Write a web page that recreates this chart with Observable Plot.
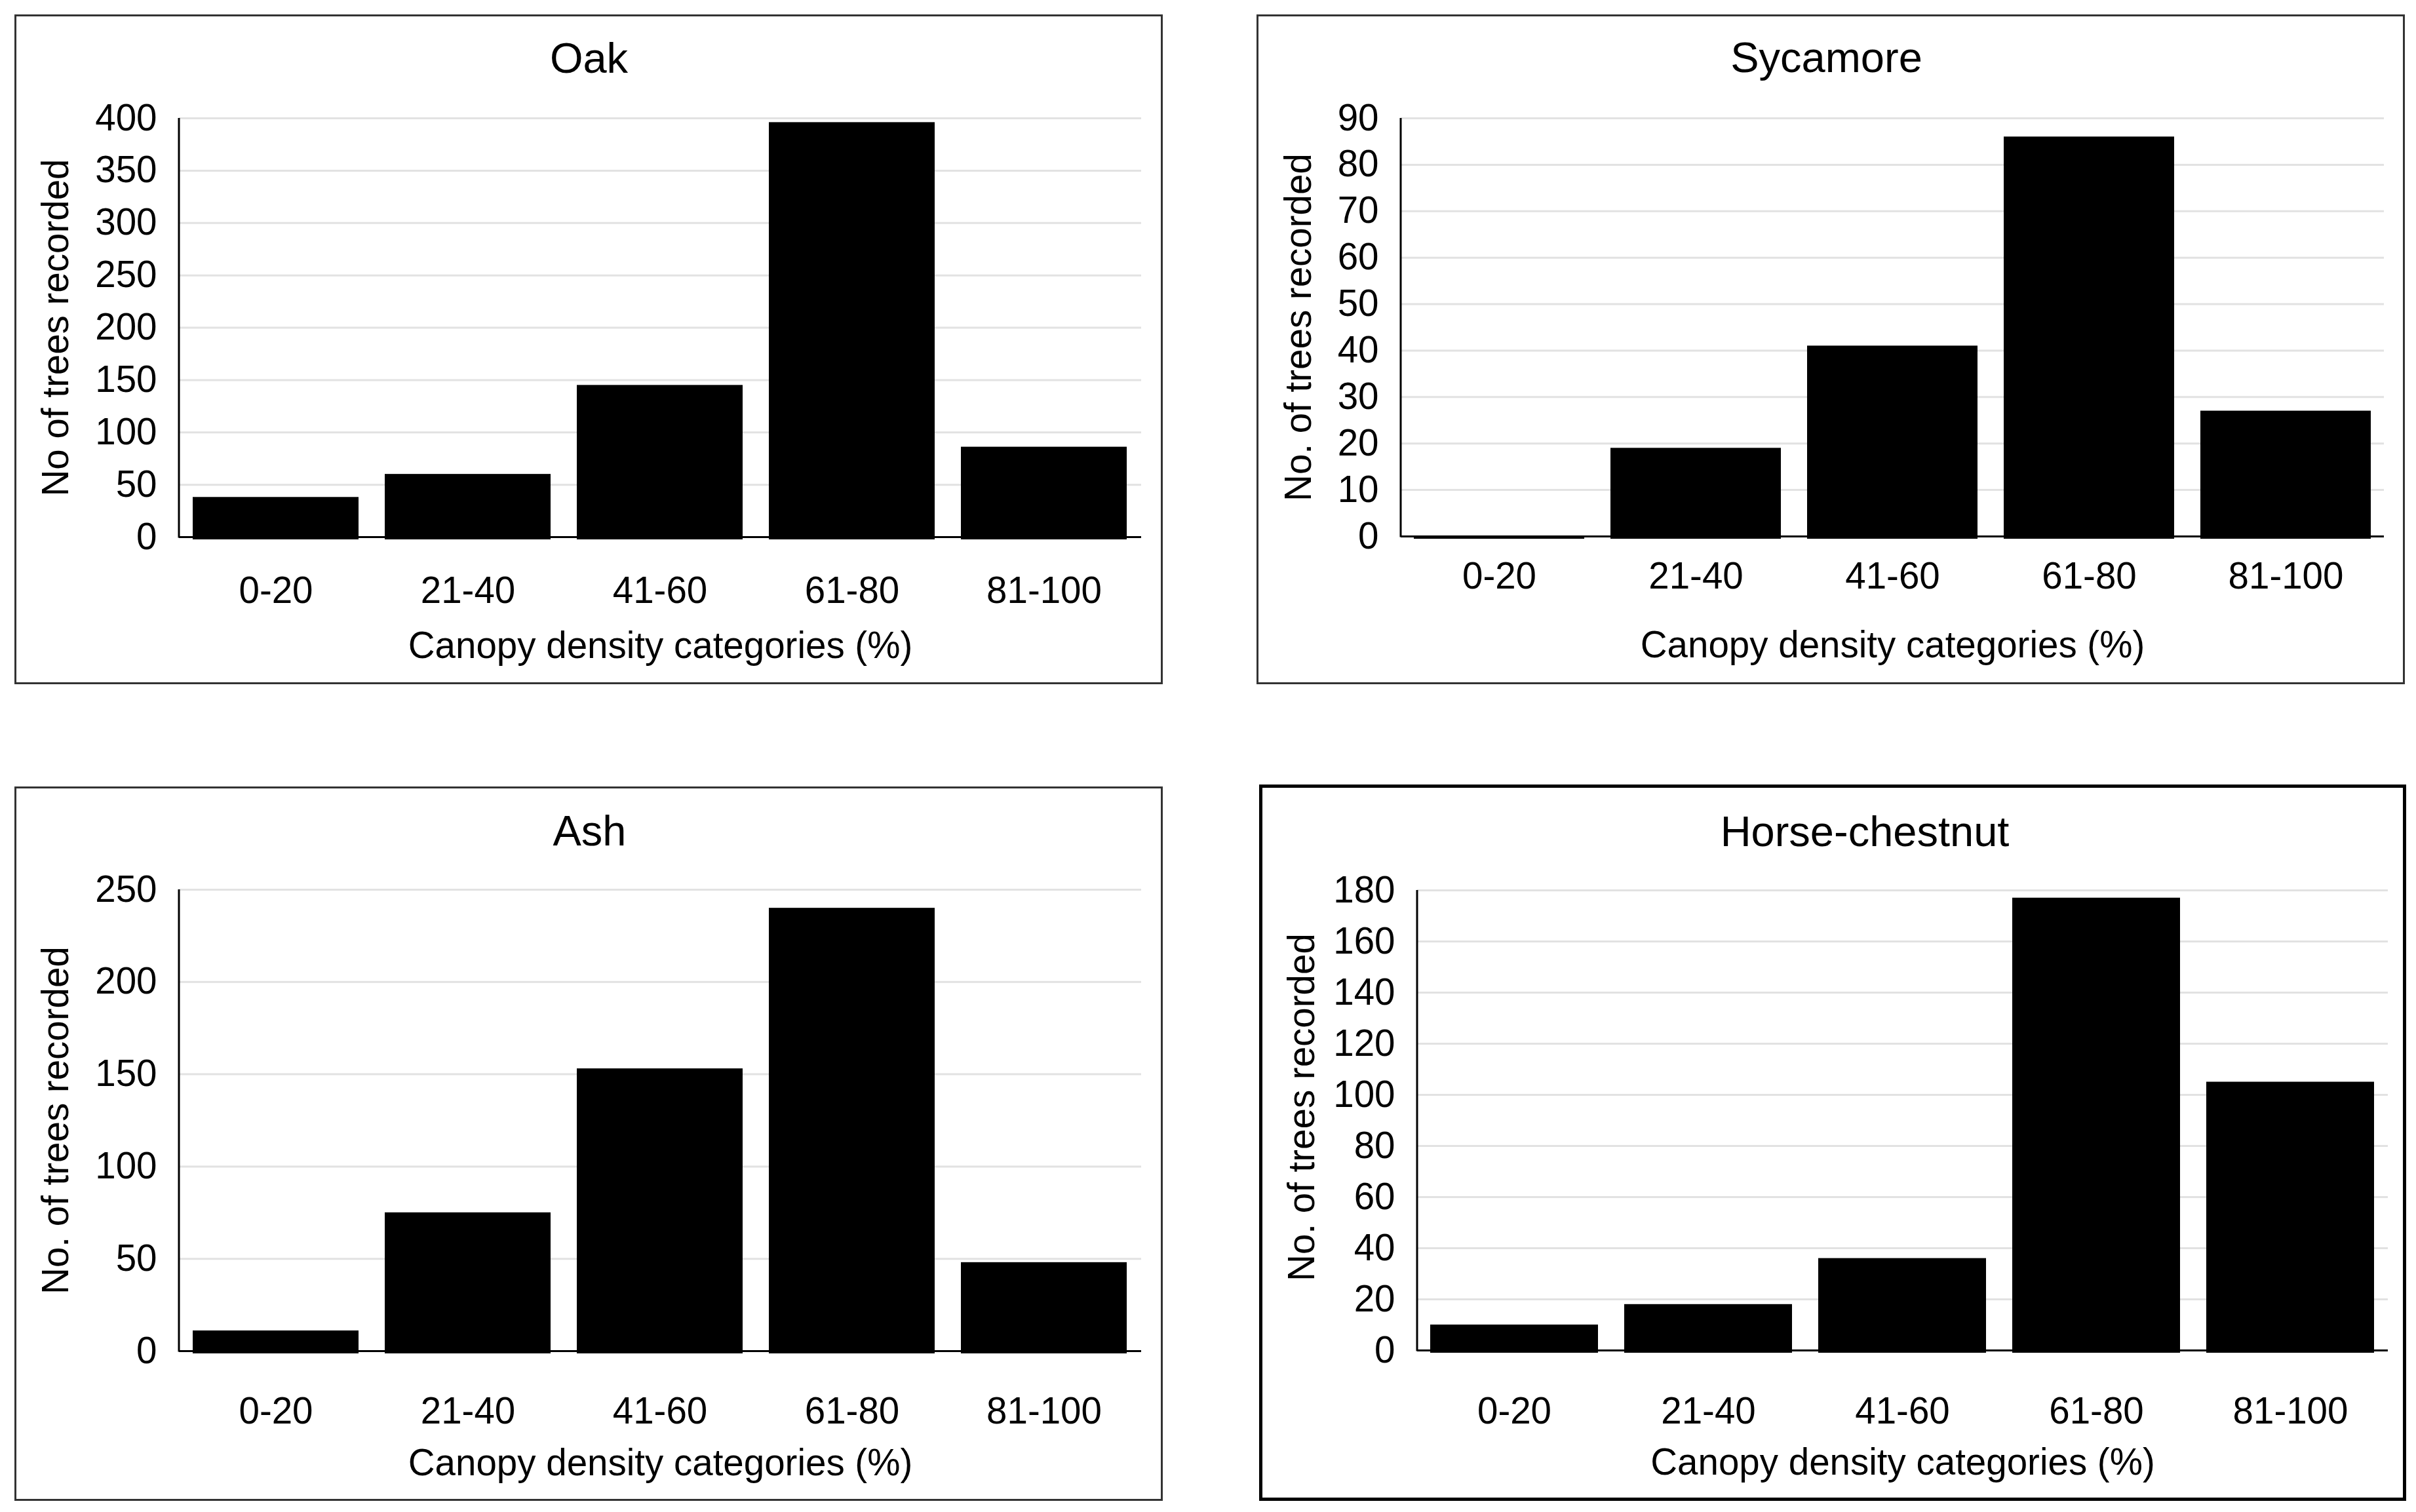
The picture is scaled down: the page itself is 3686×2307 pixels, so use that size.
<!DOCTYPE html>
<html>
<head>
<meta charset="utf-8">
<script src="https://cdn.jsdelivr.net/npm/d3@7"></script>
<script src="https://cdn.jsdelivr.net/npm/@observablehq/plot@0.6"></script>
<style>
  html, body { margin: 0; padding: 0; background: white; }
  body { position: relative; width: 3686px; height: 2307px; overflow: hidden; }
  .box { position: absolute; box-sizing: border-box; pointer-events: none; background: transparent; }
</style>
</head>
<body>
<script>
// ---- data ----
const categories = ["0-20", "21-40", "41-60", "61-80", "81-100"];
const oakCounts = [38, 60, 145, 396, 86];
const sycamoreCounts = [0, 19, 41, 86, 27];
const ashCounts = [11, 75, 153, 240, 48];
const horseChestnutCounts = [10, 18, 36, 177, 105];

const oakTicks = [0, 50, 100, 150, 200, 250, 300, 350, 400];
const sycamoreTicks = [0, 10, 20, 30, 40, 50, 60, 70, 80, 90];
const ashTicks = [0, 50, 100, 150, 200, 250];
const horseChestnutTicks = [0, 20, 40, 60, 80, 100, 120, 140, 160, 180];

const titles = ["Oak", "Sycamore", "Ash", "Horse-chestnut"];
const yLabels = ["No of trees recorded", "No. of trees recorded", "No. of trees recorded", "No. of trees recorded"];
const xLabel = "Canopy density categories (%)";

// ---- layout (not data) ----
const panels = [
  {title: titles[0], ylab: yLabels[0], counts: oakCounts, ticks: oakTicks,
   L: 23, T: 23, W: 1749, H: 1019, mL: 250, mR: 31, mT: 157, mB: 223,
   tickPad: 60, xLabDy: 166, yLabDx: -188, yLabDy: 0, titleDx: -109, titleDy: -90, border: 3, borderColor: "#333"},
  {title: titles[1], ylab: yLabels[1], counts: sycamoreCounts, ticks: sycamoreTicks,
   L: 1918, T: 23, W: 1749, H: 1019, mL: 219, mR: 30, mT: 157, mB: 224,
   tickPad: 39, xLabDy: 166, yLabDx: -156, yLabDy: 0, titleDx: -101, titleDy: -91, border: 3, borderColor: "#333"},
  {title: titles[2], ylab: yLabels[2], counts: ashCounts, ticks: ashTicks,
   L: 23, T: 1201, W: 1749, H: 1087, mL: 250, mR: 31, mT: 156, mB: 227,
   tickPad: 70, xLabDy: 171, yLabDx: -188, yLabDy: 0, titleDx: -108, titleDy: -88, border: 3, borderColor: "#333"},
  {title: titles[3], ylab: yLabels[3], counts: horseChestnutCounts, ticks: horseChestnutTicks,
   L: 1923, T: 1199, W: 1745, H: 1088, mL: 239, mR: 25, mT: 159, mB: 227,
   tickPad: 71, xLabDy: 171, yLabDx: -176, yLabDy: -20, titleDx: -58, titleDy: -88, border: 5, borderColor: "#000"}
];

const FONT = "'Liberation Sans', Arial, Helvetica, sans-serif";

for (const p of panels) {
  const data = categories.map((c, i) => ({cat: c, n: p.counts[i]}));
  const ymax = p.ticks[p.ticks.length - 1];

  const yAxisLine = (index, scales, values, dims) => {
    const l = document.createElementNS("http://www.w3.org/2000/svg", "line");
    l.setAttribute("x1", dims.marginLeft);
    l.setAttribute("x2", dims.marginLeft);
    l.setAttribute("y1", scales.y(0) + 1.5);
    l.setAttribute("y2", scales.y(ymax));
    l.setAttribute("stroke", "black");
    l.setAttribute("stroke-width", 3);
    return l;
  };

  const chart = Plot.plot({
    width: p.W,
    height: p.H,
    marginLeft: p.mL,
    marginRight: p.mR,
    marginTop: p.mT,
    marginBottom: p.mB,
    style: {fontFamily: FONT, fontSize: "56.5px", color: "black", background: "white", overflow: "visible"},
    x: {domain: categories, paddingInner: 0.135, paddingOuter: 0.0675},
    y: {domain: [0, ymax]},
    marks: [
      Plot.gridY({ticks: p.ticks, stroke: "#e2e2e2", strokeOpacity: 1, strokeWidth: 3}),
      Plot.ruleY([0], {stroke: "black", strokeWidth: 3}),
      Plot.barY(data, {x: "cat", y: "n", fill: "black", insetBottom: -4}),
      yAxisLine,
      Plot.axisY({ticks: p.ticks, tickSize: 0, tickPadding: 34, label: null, fill: "black"}),
      Plot.axisX({tickSize: 0, tickPadding: p.tickPad, label: null, fill: "black"}),
      Plot.text([xLabel], {text: d => d, frameAnchor: "bottom", dy: p.xLabDy, lineAnchor: "middle", fontSize: 56.5, fill: "black"}),
      Plot.text([p.ylab], {text: d => d, frameAnchor: "left", rotate: -90, dx: p.yLabDx, dy: p.yLabDy, lineAnchor: "middle", textAnchor: "middle", fontSize: 56.5, fill: "black"}),
      Plot.text([p.title], {text: d => d, frameAnchor: "top", dx: p.titleDx, dy: p.titleDy, lineAnchor: "middle", fontSize: 65, fill: "black"})
    ]
  });
  chart.style.position = "absolute";
  chart.style.left = p.L + "px";
  chart.style.top = p.T + "px";
  chart.style.maxWidth = "none";
  document.body.appendChild(chart);

  const box = document.createElement("div");
  box.className = "box";
  const h = p.border / 2;
  box.style.left = (p.L - h) + "px";
  box.style.top = (p.T - h) + "px";
  box.style.width = (p.W + p.border) + "px";
  box.style.height = (p.H + p.border) + "px";
  box.style.border = p.border + "px solid " + p.borderColor;
  document.body.appendChild(box);
}
</script>
</body>
</html>
